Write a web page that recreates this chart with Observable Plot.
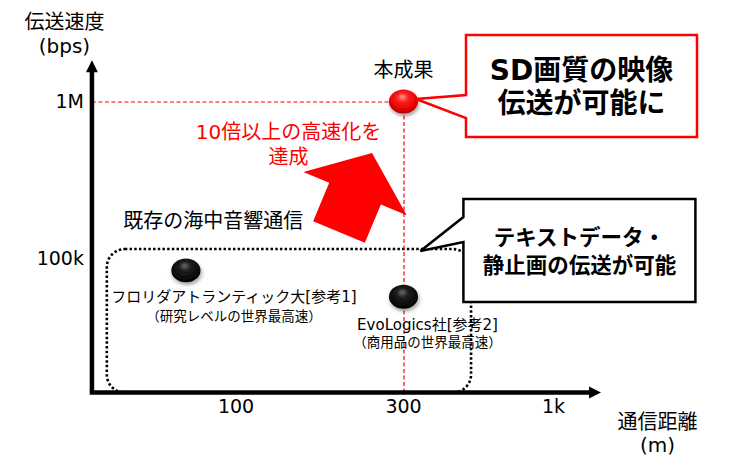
<!DOCTYPE html>
<html><head><meta charset="utf-8">
<script src="https://cdn.jsdelivr.net/npm/d3@7"></script>
<script src="https://cdn.jsdelivr.net/npm/@observablehq/plot@0.6"></script>
<style>body{margin:0;background:#fff} svg{display:block}</style>
</head><body><div id="chart"></div>
<script>
// ---- data ----
const xTickValues = [100, 300, 1000];
const xTickLabels = ["100", "300", "1k"];
const yTickValues = [100000, 1000000];
const yTickLabels = ["100k", "1M"];
const xAxisExtent = [39, 1470];
const yAxisExtent = [13900, 1820000];

const pointNames = ["本成果", "フロリダアトランティック大[参考1]", "EvoLogics社[参考2]"];
const pointSubs = ["", "（研究レベルの世界最高速）", "（商用品の世界最高速）"];
const pointDistance = [300, 72, 300];
const pointRate = [1000000, 84000, 57000];
const pointKind = ["this", "prior", "prior"];

const regionLabel = "既存の海中音響通信";
const regionDistance = [43, 518];
const regionRate = [13900, 114000];

const gainLabel = "10倍以上の高速化を\n達成";
const callout1Lines = ["SD画質の映像", "伝送が可能に"];
const callout2Lines = ["テキストデータ・", "静止画の伝送が可能"];
const callout2Tip = {distance: 345, rate: 114000};

const yTitle = "伝送速度\n(bps)";
const xTitle = "通信距離\n(m)";

// ---- build ----
const points = pointNames.map((name, i) => ({name, sub: pointSubs[i], distance: pointDistance[i], rate: pointRate[i], kind: pointKind[i]}));
const thisWork = points.filter(d => d.kind === "this");
const prior = points.filter(d => d.kind === "prior");
const fau = [points[1]], evo = [points[2]];
const region = {x1: regionDistance[0], x2: regionDistance[1], y1: regionRate[0], y2: regionRate[1]};
const xTicks = xTickValues.map((v, i) => ({v, label: xTickLabels[i]}));
const yTicks = yTickValues.map((v, i) => ({v, label: yTickLabels[i]}));
const font = "'DejaVu Sans', 'Noto Sans CJK JP', sans-serif";
const RED = "#ff0000";

const chart = Plot.plot({
  width: 746, height: 458, margin: 0,
  x: {type: "log", domain: xTickValues, range: [235.5, 403, 553], axis: null},
  y: {type: "log", domain: yTickValues, range: [258, 101], axis: null},
  style: {fontFamily: font, background: "white", overflow: "visible"},
  marks: [
    Plot.rect([region], {x1: "x1", x2: "x2", y1: "y1", y2: "y2", rx: 18, fill: "none", stroke: "black", strokeWidth: 2.6, strokeDasharray: "2.5 2.2"}),
    Plot.ruleY(thisWork, {y: "rate", x1: xAxisExtent[0], x2: "distance", dy: 0.5, stroke: RED, strokeWidth: 1.2, strokeDasharray: "4 2.5"}),
    Plot.ruleX(thisWork, {x: "distance", y1: yAxisExtent[0], y2: "rate", dx: 0.5, stroke: RED, strokeWidth: 1.2, strokeDasharray: "4 2.5"}),
    Plot.dot(thisWork, {x: "distance", y: "rate", r: 13, fill: "url(#gRed)"}),
    Plot.dot(prior, {x: "distance", y: "rate", r: 13, fill: "url(#gBlack)"}),
    Plot.text(thisWork, {x: "distance", y: "rate", text: "name", dy: -31, fontSize: 20, fill: "black"}),
    Plot.text(fau, {x: "distance", y: "rate", text: "name", dx: 48, dy: 27, fontSize: 15, fill: "black"}),
    Plot.text(fau, {x: "distance", y: "rate", text: "sub", dx: 48, dy: 46, fontSize: 13.5, fill: "black"}),
    Plot.text(evo, {x: "distance", y: "rate", text: "name", dx: 24, dy: 28, fontSize: 15, fill: "black"}),
    Plot.text(evo, {x: "distance", y: "rate", text: "sub", dx: 24, dy: 46, fontSize: 13.5, fill: "black"}),
    Plot.text([region], {x: "x1", y: "y2", text: () => regionLabel, textAnchor: "start", dx: 16, dy: -28, fontSize: 20, fill: "black"}),
    Plot.text(thisWork, {x: "distance", y: "rate", text: () => gainLabel, dx: -115, dy: 41.5, lineHeight: 1.25, fontSize: 20, fill: RED}),
    Plot.text(xTicks, {x: "v", y: yAxisExtent[0], text: "label", dy: 14, fontSize: 19, fill: "black"}),
    Plot.text(yTicks, {x: xAxisExtent[0], y: "v", text: "label", textAnchor: "end", dx: -8.5, fontSize: 19, fill: "black"}),
    Plot.text([0], {x: xAxisExtent[0], y: yAxisExtent[1], text: () => yTitle, dx: -28, dy: -27, lineHeight: 1.2, fontSize: 20, fill: "black"}),
    Plot.text([0], {x: xAxisExtent[1], y: yAxisExtent[0], text: () => xTitle, dx: 56, dy: 40, lineHeight: 1.15, fontSize: 20, fill: "black"})
  ]
});
document.getElementById("chart").appendChild(chart);

// ---- decoration through the plot's scales ----
const svg = d3.select(chart);
const xs = chart.scale("x"), ys = chart.scale("y");
const X = v => xs.apply(v), Y = v => ys.apply(v);

const defs = svg.insert("defs", ":first-child");
const gr = defs.append("radialGradient").attr("id", "gRed").attr("cx", 0.5).attr("cy", 0.4).attr("r", 0.6).attr("fx", 0.45).attr("fy", 0.3);
[[0, "#ff9090"], [0.35, "#ff1c1c"], [0.8, "#e00000"], [1, "#a80000"]].forEach(([o, c]) => gr.append("stop").attr("offset", o).attr("stop-color", c));
const gb = defs.append("radialGradient").attr("id", "gBlack").attr("cx", 0.5).attr("cy", 0.4).attr("r", 0.6).attr("fx", 0.45).attr("fy", 0.3);
[[0, "#6a6a6a"], [0.35, "#1c1c1c"], [1, "#000"]].forEach(([o, c]) => gb.append("stop").attr("offset", o).attr("stop-color", c));
defs.append("filter").attr("id", "shadow").attr("x", "-50%").attr("y", "-50%").attr("width", "200%").attr("height", "200%")
  .append("feDropShadow").attr("dx", 1).attr("dy", 3).attr("stdDeviation", 2).attr("flood-color", "#000").attr("flood-opacity", 0.35);

svg.selectAll("circle").each(function () {
  const cx = +this.getAttribute("cx"), cy = +this.getAttribute("cy");
  this.setAttribute("transform", `translate(${cx},${cy}) scale(1.12,0.92) translate(${-cx},${-cy})`);
  this.setAttribute("filter", "url(#shadow)");
});

const deco = svg.append("g");
// axes with arrow heads
const ax0 = X(xAxisExtent[0]), ax1 = X(xAxisExtent[1]), ay0 = Y(yAxisExtent[0]), ay1 = Y(yAxisExtent[1]);
deco.append("path").attr("d", `M${ax1 - 10},${ay0}H${ax0}V${ay1 + 10}`).attr("fill", "none").attr("stroke", "black").attr("stroke-width", 4.5);
deco.append("path").attr("d", `M${ax1},${ay0}L${ax1 - 12},${ay0 - 6}L${ax1 - 12},${ay0 + 6}Z`).attr("fill", "black");
deco.append("path").attr("d", `M${ax0},${ay1}L${ax0 - 6},${ay1 + 12}L${ax0 + 6},${ay1 + 12}Z`).attr("fill", "black");

// big red arrow (from prior level toward this work)
const px = X(thisWork[0].distance), py = Y(thisWork[0].rate);
const tip = [px - 31, py + 52], base = [px - 64, py + 131];
const len = Math.hypot(tip[0] - base[0], tip[1] - base[1]);
const u = [(tip[0] - base[0]) / len, (tip[1] - base[1]) / len], n = [-u[1], u[0]];
const headLen = 44, headW = 56, shaftW = 28;
const neck = [tip[0] - u[0] * headLen, tip[1] - u[1] * headLen];
const P = (p, k) => [p[0] + n[0] * k, p[1] + n[1] * k];
const arrowPts = [tip, P(neck, headW), P(neck, shaftW), P(base, shaftW), P(base, -shaftW), P(neck, -shaftW), P(neck, -headW)];
deco.append("path").attr("d", "M" + arrowPts.map(p => p.join(",")).join("L") + "Z").attr("fill", RED);

// callout 1 (red)
{
  const l = px + 63, r = px + 294, t = py - 66, b = py + 36;
  deco.append("path").attr("d", `M${l},${t}H${r}V${b}H${l}V${py + 17}L${px + 13},${py - 2}L${l},${py - 6}Z`)
    .attr("fill", "white").attr("stroke", RED).attr("stroke-width", 2.5);
  callout1Lines.forEach((s, i) => deco.append("text").attr("x", (l + r) / 2).attr("y", py - 31 + i * 33).attr("dy", "0.35em")
    .attr("text-anchor", "middle").attr("font-size", 28).attr("font-weight", "bold").attr("fill", "black").attr("font-family", font).text(s));
}
// callout 2 (black)
{
  const tx = X(callout2Tip.distance), ty = Y(callout2Tip.rate) + 2;
  const l = tx + 43, r = tx + 275, t = ty - 52, b = ty + 51;
  deco.append("path").attr("d", `M${l},${t}H${r}V${b}H${l}V${ty - 9}L${tx},${ty}L${l},${ty - 34}Z`)
    .attr("fill", "white").attr("stroke", "black").attr("stroke-width", 2.5);
  callout2Lines.forEach((s, i) => deco.append("text").attr("x", (l + r) / 2).attr("y", ty - 14 + i * 28).attr("dy", "0.35em")
    .attr("text-anchor", "middle").attr("font-size", 21.5).attr("font-weight", "bold").attr("fill", "black").attr("font-family", font).text(s));
}
</script>
</body></html>
